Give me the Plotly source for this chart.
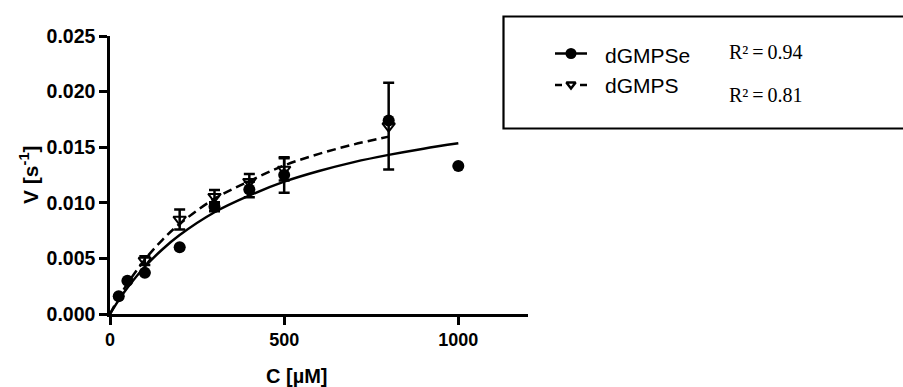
import plotly.graph_objects as go

# Substrate concentration (µM) and initial velocity (s^-1)
conc_se = [25, 50, 100, 200, 300, 400, 500, 800, 1000]
v_se = [0.0016, 0.0030, 0.0037, 0.0060, 0.00965, 0.0112, 0.0125, 0.0174, 0.0133]
err_se = [0, 0, 0, 0, 0.0004, 0.0007, 0.0016, 0.0, 0]

conc_s = [100, 200, 300, 400, 500, 800]
v_s = [0.0048, 0.0085, 0.01055, 0.0119, 0.0130, 0.0169]
err_s = [0.0004, 0.0009, 0.0006, 0.0007, 0.0010, 0.0039]

# Michaelis-Menten fit curves
fit_c_se = [0, 25, 50, 100, 150, 200, 300, 400, 500, 600, 700, 800, 900, 1000]
fit_v_se = [0, 0.00125, 0.00236, 0.00425, 0.00580, 0.00710, 0.00915, 0.01065,
            0.01190, 0.01286, 0.01366, 0.01431, 0.01487, 0.01535]
fit_c_s = [0, 25, 50, 100, 150, 200, 300, 400, 500, 600, 700, 800]
fit_v_s = [0, 0.00145, 0.00273, 0.00489, 0.00665, 0.00810, 0.01037, 0.01195,
           0.01336, 0.01440, 0.01525, 0.01595]

series_names = ["dGMPSe", "dGMPS"]
r2_labels = ["R\u00b2\u2009=\u20090.94", "R\u00b2\u2009=\u20090.81"]

x_ticks = [0, 500, 1000]
y_ticks = [0.0, 0.005, 0.010, 0.015, 0.020, 0.025]

W, H = 903, 387
SANS = "Liberation Sans, Arial, sans-serif"
SERIF = "Liberation Serif, Times New Roman, serif"

fig = go.Figure()

# fit curves
fig.add_trace(go.Scatter(x=fit_c_s, y=fit_v_s, mode="lines", line_shape="spline",
                         line=dict(color="black", width=2.5, dash="9px,5px"),
                         cliponaxis=False, showlegend=False))
fig.add_trace(go.Scatter(x=fit_c_se, y=fit_v_se, mode="lines", line_shape="spline",
                         line=dict(color="black", width=2.5),
                         cliponaxis=False, showlegend=False))

# measured points
fig.add_trace(go.Scatter(
    x=conc_s, y=v_s, mode="markers",
    marker=dict(symbol="triangle-down-open", size=11, color="black",
                line=dict(width=2, color="black")),
    error_y=dict(type="data", array=err_s, color="black", thickness=2.5, width=5.5),
    cliponaxis=False, showlegend=False))
fig.add_trace(go.Scatter(
    x=conc_se, y=v_se, mode="markers",
    marker=dict(symbol="circle", size=12, color="black"),
    error_y=dict(type="data", array=err_se, color="black", thickness=2.5, width=5.5),
    cliponaxis=False, showlegend=False))

# key glyphs on a full-figure pixel overlay
fig.add_trace(go.Scatter(x=[555, 587], y=[53.5, 53.5], mode="lines",
                         line=dict(color="black", width=2.5),
                         xaxis="x2", yaxis="y2", cliponaxis=False, showlegend=False))
fig.add_trace(go.Scatter(x=[571], y=[53.5], mode="markers",
                         marker=dict(symbol="circle", size=11, color="black"),
                         xaxis="x2", yaxis="y2", cliponaxis=False, showlegend=False))
fig.add_trace(go.Scatter(x=[555, 562, None, 580, 587], y=[85, 85, None, 85, 85], mode="lines",
                         line=dict(color="black", width=2.5),
                         xaxis="x2", yaxis="y2", cliponaxis=False, showlegend=False))
fig.add_trace(go.Scatter(x=[571], y=[84.5], mode="markers",
                         marker=dict(symbol="triangle-down-open", size=8, color="black",
                                     line=dict(width=2.5, color="black")),
                         xaxis="x2", yaxis="y2", cliponaxis=False, showlegend=False))

annotations = [
    dict(x=603, y=55, text=series_names[0], xref="x2", yref="y2", showarrow=False,
         xanchor="left", yanchor="middle", font=dict(family=SANS, size=21, color="black")),
    dict(x=603, y=85, text=series_names[1], xref="x2", yref="y2", showarrow=False,
         xanchor="left", yanchor="middle", font=dict(family=SANS, size=21, color="black")),
    dict(x=727, y=52, text=r2_labels[0], xref="x2", yref="y2", showarrow=False,
         xanchor="left", yanchor="middle", font=dict(family=SERIF, size=20, color="black")),
    dict(x=727, y=95, text=r2_labels[1], xref="x2", yref="y2", showarrow=False,
         xanchor="left", yanchor="middle", font=dict(family=SERIF, size=20, color="black")),
    dict(x=297, y=376, text="<b>C [µM]</b>", xref="x2", yref="y2", showarrow=False,
         xanchor="center", yanchor="middle", font=dict(family=SANS, size=20, color="black")),
    dict(x=29, y=175, text="<b>V [s<sup>-1</sup>]</b>", xref="x2", yref="y2", showarrow=False,
         textangle=-90, xanchor="center", yanchor="middle",
         font=dict(family=SANS, size=21, color="black")),
]

fig.update_layout(
    width=W, height=H,
    margin=dict(l=0, r=0, t=0, b=0),
    paper_bgcolor="white",
    plot_bgcolor="rgba(0,0,0,0)",
    showlegend=False,
    xaxis=dict(domain=[110 / W, 528 / W], range=[0, 1200], tickvals=x_ticks,
               showline=True, linecolor="black", linewidth=2.5,
               ticks="outside", ticklen=8, tickwidth=2.5, tickcolor="black",
               showgrid=False, zeroline=False, automargin=False,
               tickfont=dict(family=SANS, size=18, color="black", weight="bold"),
               anchor="y"),
    yaxis=dict(domain=[73 / H, 351 / H], range=[0, 0.025], tickvals=y_ticks,
               tickformat=".3f",
               showline=True, linecolor="black", linewidth=2.5,
               ticks="outside", ticklen=8, tickwidth=2.5, tickcolor="black",
               showgrid=False, zeroline=False, automargin=False,
               tickfont=dict(family=SANS, size=19.5, color="black", weight="bold"),
               anchor="x"),
    xaxis2=dict(domain=[0, 1], range=[0, W], visible=False, anchor="y2", fixedrange=True),
    yaxis2=dict(domain=[0, 1], range=[H, 0], visible=False, anchor="x2", fixedrange=True),
    shapes=[dict(type="rect", xref="x2", yref="y2", x0=503.5, y0=16.5, x1=915, y1=128.5,
                 line=dict(color="black", width=2.2), layer="above")],
    annotations=annotations,
)

fig.write_html("out.html")
